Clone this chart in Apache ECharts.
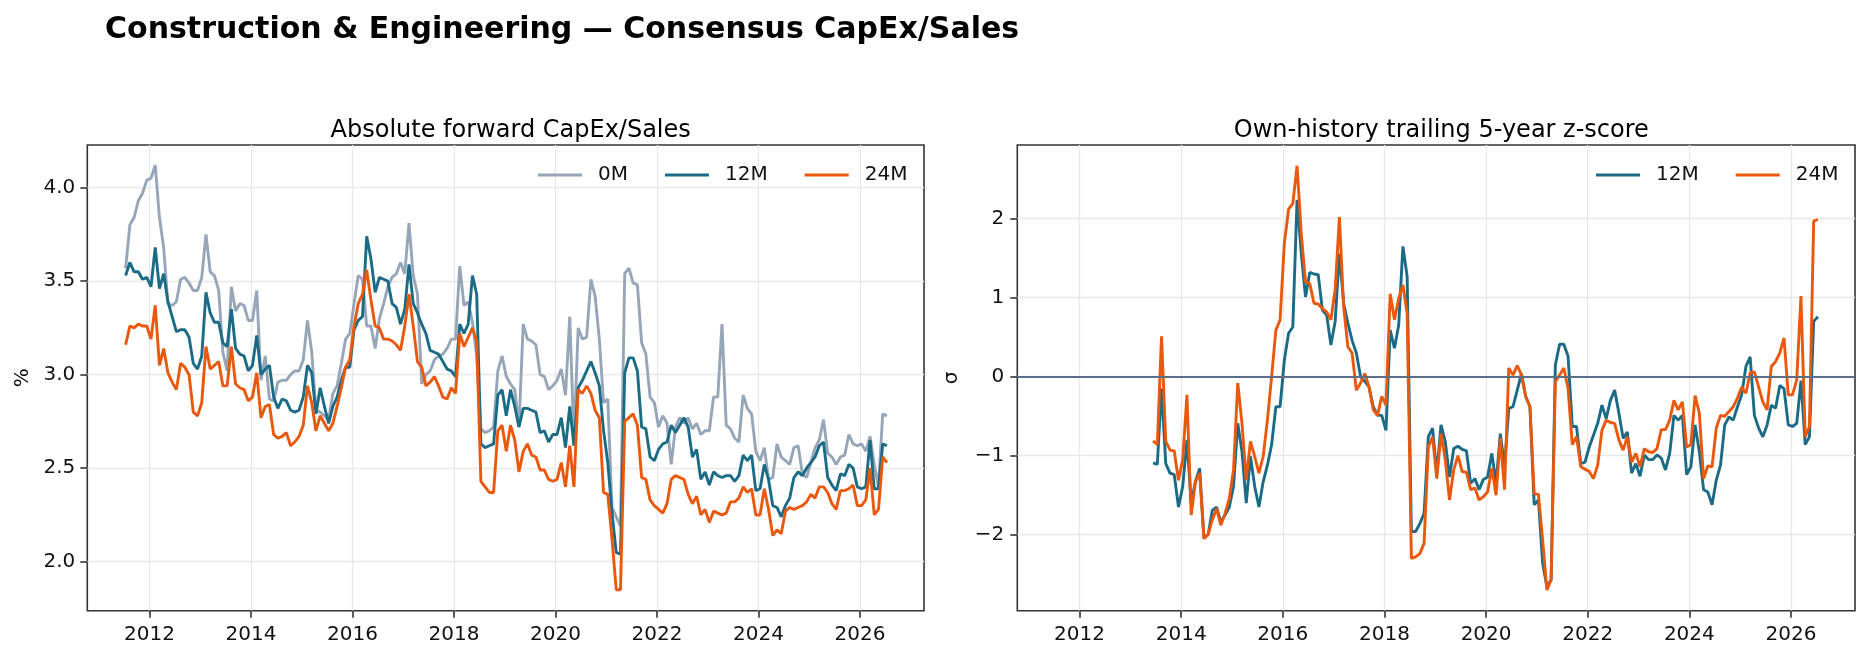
<!DOCTYPE html>
<html>
<head>
<meta charset="utf-8">
<title>Construction &amp; Engineering — Consensus CapEx/Sales</title>
<script src="https://cdn.jsdelivr.net/npm/echarts@6/dist/echarts.min.js"></script>
<style>
  html, body { margin: 0; padding: 0; background: #fff; }
  #main { width: 1869px; height: 659px; }
</style>
</head>
<body>
<div id="main"></div>
<script type="text/javascript">
// monthly observations, first one mid-2011 (decimal year)
var firstMonth = 2011.53;
var zFirstIndex = 23;   // z-score needs 2 years of history before it starts

var yearTicks = [2012, 2014, 2016, 2018, 2020, 2022, 2024, 2026];
var pctTicks = [2.0, 2.5, 3.0, 3.5, 4.0];
var zTicks = [-2, -1, 0, 1, 2];

// forward CapEx/Sales, %
var capex0M = [
  3.57,3.80,3.84,3.93,3.97,4.04,4.05,4.12,3.84,3.68,
  3.38,3.37,3.39,3.51,3.52,3.49,3.45,3.45,3.52,3.75,
  3.55,3.53,3.45,3.12,3.02,3.47,3.34,3.38,3.37,3.29,
  3.29,3.45,2.97,3.10,2.87,2.86,2.96,2.97,2.97,3.00,
  3.02,3.02,3.08,3.29,3.12,2.81,2.80,2.78,2.76,2.90,
  2.94,3.06,3.19,3.22,3.38,3.53,3.51,3.26,3.26,3.14,
  3.30,3.38,3.47,3.52,3.54,3.60,3.54,3.81,3.53,3.43,
  2.95,3.00,3.02,3.08,3.10,3.11,3.14,3.19,3.19,3.58,
  3.37,3.39,3.28,3.10,2.71,2.69,2.70,2.72,3.02,3.10,
  2.99,2.95,2.92,2.72,3.27,3.19,3.18,3.16,3.00,2.99,
  2.92,2.94,2.97,3.03,2.89,3.31,2.65,3.25,3.19,3.20,
  3.51,3.42,3.19,2.85,2.87,2.29,2.24,2.19,3.54,3.57,
  3.49,3.48,3.17,3.11,2.88,2.85,2.72,2.78,2.74,2.52,
  2.72,2.77,2.74,2.77,2.71,2.74,2.68,2.70,2.70,2.88,
  2.88,3.27,2.73,2.71,2.66,2.64,2.89,2.82,2.79,2.59,
  2.54,2.61,2.44,2.45,2.63,2.56,2.54,2.52,2.61,2.62,
  2.47,2.45,2.53,2.61,2.65,2.76,2.58,2.56,2.52,2.56,
  2.57,2.68,2.63,2.62,2.63,2.59,2.67,2.52,2.40,2.79,
  2.78
];
var capex12M = [
  3.53,3.60,3.55,3.55,3.51,3.52,3.47,3.68,3.46,3.54,
  3.39,3.31,3.23,3.24,3.24,3.20,3.06,3.03,3.10,3.44,
  3.33,3.28,3.28,3.17,3.15,3.35,3.14,3.11,3.10,3.02,
  3.05,3.21,3.00,3.03,3.05,2.88,2.82,2.87,2.86,2.81,
  2.80,2.81,2.88,3.05,3.01,2.79,2.93,2.83,2.74,2.83,
  2.88,2.97,3.04,3.04,3.24,3.29,3.31,3.74,3.62,3.44,
  3.52,3.51,3.50,3.38,3.36,3.27,3.35,3.59,3.38,3.33,
  3.27,3.22,3.13,3.12,3.11,3.07,3.03,3.02,2.99,3.27,
  3.22,3.27,3.53,3.43,2.63,2.61,2.62,2.63,2.89,2.92,
  2.78,2.92,2.83,2.72,2.82,2.82,2.81,2.80,2.69,2.70,
  2.64,2.68,2.68,2.77,2.61,2.83,2.62,2.93,2.97,3.02,
  3.07,3.01,2.94,2.70,2.53,2.26,2.05,2.04,3.01,3.09,
  3.09,3.02,2.72,2.71,2.56,2.54,2.60,2.63,2.64,2.73,
  2.69,2.73,2.77,2.72,2.56,2.60,2.44,2.48,2.41,2.48,
  2.46,2.45,2.46,2.46,2.43,2.46,2.57,2.54,2.57,2.38,
  2.39,2.52,2.44,2.30,2.29,2.24,2.30,2.34,2.45,2.48,
  2.46,2.50,2.53,2.56,2.62,2.64,2.45,2.41,2.38,2.47,
  2.46,2.52,2.50,2.40,2.39,2.40,2.65,2.39,2.39,2.63,
  2.62
];
var capex24M = [
  3.16,3.26,3.25,3.27,3.26,3.26,3.19,3.37,3.05,3.14,
  3.01,2.96,2.92,3.06,3.04,3.00,2.80,2.78,2.85,3.15,
  3.03,3.05,3.07,2.94,2.94,3.15,2.95,2.93,2.92,2.86,
  2.88,3.01,2.77,2.83,2.84,2.68,2.66,2.67,2.69,2.62,
  2.64,2.67,2.73,2.94,2.85,2.70,2.78,2.74,2.70,2.74,
  2.83,2.93,3.04,3.08,3.26,3.38,3.43,3.56,3.40,3.26,
  3.25,3.19,3.19,3.18,3.16,3.13,3.26,3.43,3.26,3.07,
  3.04,2.94,2.96,2.99,2.94,2.88,2.87,2.93,2.90,3.22,
  3.15,3.20,3.25,3.18,2.43,2.40,2.37,2.37,2.70,2.73,
  2.59,2.73,2.65,2.48,2.59,2.63,2.57,2.56,2.49,2.49,
  2.44,2.43,2.44,2.53,2.40,2.62,2.40,2.92,2.90,2.94,
  2.90,2.81,2.77,2.37,2.36,2.12,1.85,1.85,2.75,2.77,
  2.79,2.73,2.45,2.44,2.33,2.30,2.28,2.26,2.31,2.44,
  2.46,2.45,2.44,2.36,2.31,2.35,2.25,2.28,2.21,2.27,
  2.26,2.25,2.26,2.32,2.32,2.34,2.40,2.37,2.39,2.25,
  2.25,2.39,2.28,2.14,2.17,2.15,2.27,2.29,2.28,2.29,
  2.30,2.32,2.36,2.34,2.40,2.40,2.37,2.31,2.28,2.38,
  2.38,2.39,2.41,2.30,2.30,2.33,2.50,2.25,2.28,2.56,
  2.53
];

// trailing 5y z-score, from month index 23 on
var z12M = [
  -1.09,-1.11,-0.15,-1.10,-1.22,-1.24,-1.65,
  -1.39,-0.80,-1.60,-1.33,-1.16,-2.03,-2.00,-1.69,-1.65,-1.84,
  -1.75,-1.65,-1.39,-0.59,-0.95,-1.60,-1.01,-1.39,-1.65,-1.33,
  -1.12,-0.86,-0.38,-0.38,0.21,0.55,0.63,2.24,1.56,1.01,
  1.32,1.30,1.29,0.84,0.78,0.40,0.70,1.56,0.93,0.68,
  0.46,0.30,0.00,-0.06,-0.13,-0.38,-0.49,-0.49,-0.68,0.59,
  0.36,0.65,1.65,1.27,-1.96,-1.96,-1.86,-1.73,-0.76,-0.65,
  -1.22,-0.61,-0.82,-1.27,-0.91,-0.88,-0.92,-0.94,-1.35,-1.29,
  -1.43,-1.30,-1.27,-0.97,-1.35,-0.72,-1.14,-0.40,-0.38,-0.17,
  0.04,-0.25,-0.38,-1.62,-1.56,-2.36,-2.66,-2.57,0.15,0.41,
  0.41,0.26,-0.63,-0.63,-1.10,-1.08,-0.89,-0.74,-0.59,-0.36,
  -0.53,-0.30,-0.17,-0.46,-0.78,-0.70,-1.22,-1.10,-1.26,-0.99,
  -1.05,-1.05,-0.99,-1.03,-1.18,-0.97,-0.49,-0.55,-0.49,-1.24,
  -1.14,-0.61,-0.95,-1.43,-1.46,-1.62,-1.31,-1.12,-0.61,-0.51,
  -0.55,-0.38,-0.23,0.13,0.25,-0.49,-0.65,-0.76,-0.61,-0.36,
  -0.40,-0.11,-0.15,-0.61,-0.63,-0.59,-0.05,-0.86,-0.76,0.70,0.76
];
var z24M = [
  -0.81,-0.86,0.51,-0.82,-0.93,-0.94,-1.31,
  -1.05,-0.23,-1.75,-1.33,-1.22,-2.05,-2.00,-1.81,-1.67,-1.88,
  -1.73,-1.54,-1.18,-0.08,-0.59,-1.31,-0.82,-1.01,-1.22,-1.01,
  -0.55,0.00,0.59,0.72,1.69,2.12,2.19,2.67,1.81,1.20,
  1.18,0.93,0.92,0.86,0.82,0.72,1.10,2.02,0.89,0.38,
  0.30,-0.17,-0.08,0.04,-0.13,-0.42,-0.49,-0.25,-0.36,1.05,
  0.72,0.99,1.16,0.80,-2.30,-2.28,-2.24,-2.11,-0.89,-0.76,
  -1.29,-0.72,-1.05,-1.56,-1.18,-1.00,-1.20,-1.21,-1.43,-1.41,
  -1.56,-1.52,-1.46,-1.16,-1.50,-0.78,-1.43,0.11,0.02,0.14,
  0.02,-0.25,-0.38,-1.48,-1.49,-2.07,-2.70,-2.57,-0.06,0.02,
  0.11,-0.15,-0.86,-0.76,-1.14,-1.17,-1.20,-1.29,-1.12,-0.68,
  -0.55,-0.58,-0.59,-0.80,-0.93,-0.76,-1.08,-0.97,-1.14,-0.91,
  -0.95,-0.96,-0.91,-0.67,-0.67,-0.55,-0.30,-0.42,-0.32,-0.89,
  -0.86,-0.24,-0.46,-1.29,-1.13,-1.14,-0.65,-0.49,-0.50,-0.44,
  -0.38,-0.27,-0.13,-0.21,0.05,0.06,-0.13,-0.32,-0.42,0.13,
  0.19,0.30,0.49,-0.23,-0.23,-0.04,1.02,-0.76,-0.63,1.97,1.99
];

var FONT = 'DejaVu Sans';
var C0 = '#97a5b9', C12 = '#1b6b87', C24 = '#e9580c';

// pair values with their month position on the x axis
function pairs(values, offset) {
  return values.map(function (v, i) { return [firstMonth + (i + offset) / 12, v]; });
}
function minus(v) { return String(v).replace('-', '\u2212'); }

var myChart = echarts.init(document.getElementById('main'));

function xAxisFor(idx) {
  return {
    type: 'value', gridIndex: idx,
    min: 2010.775, max: 2027.26,
    axisLine: { show: false, onZero: false },
    axisTick: { show: true, customValues: yearTicks, length: 7, lineStyle: { color: '#333', width: 1.6 } },
    axisLabel: { customValues: yearTicks, margin: 14, fontSize: 20, fontFamily: FONT, color: '#111',
      formatter: function (v) { return String(v); } },
    splitLine: { show: true, lineStyle: { color: '#e8e8e8', width: 1.3 } }
  };
}

function lineSeries(name, color, xi, data) {
  return {
    type: 'line', name: name, xAxisIndex: xi, yAxisIndex: xi,
    data: data, showSymbol: false, symbol: 'none',
    lineStyle: { width: 2.9, color: color }, itemStyle: { color: color },
    emphasis: { disabled: true }, animation: false
  };
}

var z12Series = lineSeries('12M', C12, 1, pairs(z12M, zFirstIndex));
z12Series.markLine = {
  silent: true, symbol: 'none', label: { show: false },
  lineStyle: { color: '#5b6e86', width: 1.8, type: 'solid' },
  emphasis: { disabled: true },
  data: [{ yAxis: 0 }]
};

var legendText = { fontSize: 20, fontFamily: FONT, color: '#111', padding: [0, 0, 0, 11] };

option = {
  backgroundColor: '#fff',
  animation: false,
  title: [
    { text: 'Construction & Engineering \u2014 Consensus CapEx/Sales', left: 100, top: 10,
      textStyle: { fontSize: 30, fontWeight: 'bold', fontFamily: FONT, color: '#000' } },
    { text: 'Absolute forward CapEx/Sales', left: 505.7, top: 114, textAlign: 'center',
      textStyle: { fontSize: 24, fontWeight: 'normal', fontFamily: FONT, color: '#000' } },
    { text: 'Own-history trailing 5-year z-score', left: 1436.3, top: 114, textAlign: 'center',
      textStyle: { fontSize: 24, fontWeight: 'normal', fontFamily: FONT, color: '#000' } }
  ],
  legend: [
    { data: ['0M', '12M', '24M'], left: 538, top: 165, padding: 0, icon: 'rect',
      itemWidth: 44, itemHeight: 3, itemGap: 37, textStyle: legendText },
    { data: ['12M', '24M'], left: 1596, top: 165, padding: 0, icon: 'rect',
      itemWidth: 44, itemHeight: 3, itemGap: 37, textStyle: legendText }
  ],
  grid: [
    { left: 87.3, top: 145, width: 836.7, height: 465.7, show: true,
      borderColor: '#333', borderWidth: 1.6, backgroundColor: 'transparent' },
    { left: 1017.3, top: 145, width: 837.7, height: 465.7, show: true,
      borderColor: '#333', borderWidth: 1.6, backgroundColor: 'transparent' }
  ],
  xAxis: [xAxisFor(0), xAxisFor(1)],
  yAxis: [
    { type: 'value', gridIndex: 0, min: 1.738, max: 4.228,
      name: '%', nameLocation: 'middle', nameGap: 55,
      nameTextStyle: { fontSize: 20, fontFamily: FONT, color: '#111' },
      axisLine: { show: false },
      axisTick: { show: true, customValues: pctTicks, length: 7, lineStyle: { color: '#333', width: 1.6 } },
      axisLabel: { customValues: pctTicks, margin: 12, fontSize: 20, fontFamily: FONT, color: '#111',
        formatter: function (v) { return v.toFixed(1); } },
      splitLine: { show: true, lineStyle: { color: '#e8e8e8', width: 1.3 } } },
    { type: 'value', gridIndex: 1, min: -2.962, max: 2.933,
      name: '\u03c3', nameLocation: 'middle', nameGap: 56,
      nameTextStyle: { fontSize: 20, fontFamily: FONT, color: '#111' },
      axisLine: { show: false },
      axisTick: { show: true, customValues: zTicks, length: 7, lineStyle: { color: '#333', width: 1.6 } },
      axisLabel: { customValues: zTicks, margin: 13, fontSize: 20, fontFamily: FONT, color: '#111',
        formatter: minus },
      splitLine: { show: true, lineStyle: { color: '#e8e8e8', width: 1.3 } } }
  ],
  series: [
    lineSeries('0M', C0, 0, pairs(capex0M, 0)),
    lineSeries('12M', C12, 0, pairs(capex12M, 0)),
    lineSeries('24M', C24, 0, pairs(capex24M, 0)),
    z12Series,
    lineSeries('24M', C24, 1, pairs(z24M, zFirstIndex))
  ]
};

myChart.setOption(option);
</script>
</body>
</html>
